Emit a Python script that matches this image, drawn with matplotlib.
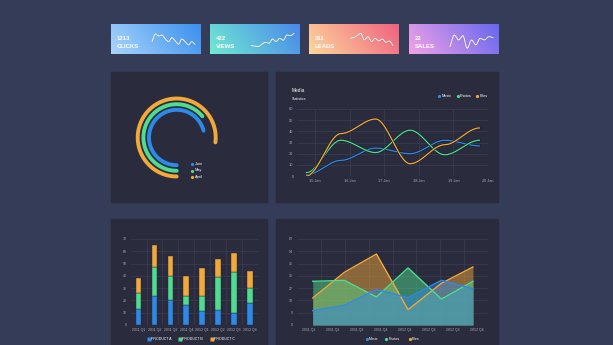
import numpy as np
import matplotlib.pyplot as plt
from matplotlib.colors import LinearSegmentedColormap
from matplotlib.patches import Rectangle
from matplotlib.lines import Line2D
import matplotlib.patheffects as pe

plt.rcParams['font.family'] = ['Liberation Sans', 'DejaVu Sans']

W, H = 613, 345
BG = '#343c57'
PANEL = '#2a2c3d'
GRID = '#3a3d51'
TXT = '#a9adbb'
BLUE, GREEN, ORANGE = '#2e8ae8', '#4fdc8e', '#f2a93a'

# cards
card_values = ['1213', '422', '311', '22']
card_labels = ['CLICKS', 'VIEWS', 'LEADS', 'SALES']
card_colors = [('#a9d5fb', '#3a90ee'), ('#70ead2', '#4a88ea'),
               ('#fdd79b', '#f0627f'), ('#f2a2e6', '#6767ef')]
spark = [
    [20, 43, 37, 40, 28, 20, 32, 22, 12, 28, 20, 10, 20, 12],
    [8, 7, 5, 12, 18, 15, 28, 20, 30, 24, 40, 38, 45],
    [30, 32, 38, 45, 25, 35, 20, 30, 22, 28, 18, 22, 8],
    [5, 40, 25, 38, 0, 25, 10, 30, 25, 35, 32],
]

# radial bars
radial_labels = ['June', 'May', 'April']
radial_pct = [71, 64, 77]

# media line chart
line_days = [14.75, 15.75, 16.75, 17.75, 18.75, 19.75]
music = [1, 14, 25, 20, 32, 27]
photos = [3, 32, 21, 41, 19, 32]
files = [0, 38, 51, 11, 28, 43]

# stacked bars
quarters = ['2011 Q1', '2011 Q2', '2011 Q3', '2011 Q4',
            '2012 Q1', '2012 Q2', '2012 Q3', '2012 Q4']
prod_a = [13, 24, 20, 16, 11, 12, 10, 18]
prod_b = [13, 23, 20, 8, 13, 27, 33, 12]
prod_c = [12, 18, 16, 16, 22, 15, 16, 14]

# area chart
area_x = [0.67, 1.99, 3.33, 4.65, 6.04, 7.36]
area_music = [10.5, 14.4, 26, 20, 32.7, 26.6]
area_photos = [32, 32.7, 20.5, 41.8, 19, 32]
area_files = [19.8, 38.6, 52, 11.2, 30.5, 42.5]


def pchip(x, y, n=300):
    x = np.asarray(x, float)
    y = np.asarray(y, float)
    h = np.diff(x)
    d = np.diff(y) / h
    m = np.zeros(len(x))
    m[0], m[-1] = d[0], d[-1]
    for k in range(1, len(x) - 1):
        if d[k - 1] * d[k] > 0:
            w1 = 2 * h[k] + h[k - 1]
            w2 = h[k] + 2 * h[k - 1]
            m[k] = (w1 + w2) / (w1 / d[k - 1] + w2 / d[k])
    xs = np.linspace(x[0], x[-1], n)
    i = np.clip(np.searchsorted(x, xs) - 1, 0, len(x) - 2)
    t = (xs - x[i]) / h[i]
    h00 = 2 * t**3 - 3 * t**2 + 1
    h10 = t**3 - 2 * t**2 + t
    h01 = -2 * t**3 + 3 * t**2
    h11 = t**3 - t**2
    ys = h00 * y[i] + h10 * h[i] * m[i] + h01 * y[i + 1] + h11 * h[i] * m[i + 1]
    return xs, ys


def bump(x, y, n=300):
    # flat tangent at every point, like the dashboard's smooth curve
    x = np.asarray(x, float)
    y = np.asarray(y, float)
    xs = np.linspace(x[0], x[-1], n)
    i = np.clip(np.searchsorted(x, xs) - 1, 0, len(x) - 2)
    t = (xs - x[i]) / (x[i + 1] - x[i])
    s = 3 * t**2 - 2 * t**3
    return xs, y[i] + (y[i + 1] - y[i]) * s


fig = plt.figure(figsize=(W / 100, H / 100), dpi=100, facecolor=BG)


def fig_axes(x0, y0, x1, y1):
    return fig.add_axes([x0 / W, 1 - y1 / H, (x1 - x0) / W, (y1 - y0) / H])


def ft(x, y, s, **kw):
    fig.text(x / W, 1 - y / H, s, **kw)


def dot(x, y, c, marker='o', ms=2.6):
    fig.add_artist(Line2D([x / W], [1 - y / H], marker=marker, ms=ms, color=c,
                          mec='none', transform=fig.transFigure))


# dark panels
for x0, y0, x1, y1 in [(111, 72, 267, 202), (276, 72, 498, 202),
                       (111, 219, 267, 360), (276, 219, 498, 360)]:
    fig.add_artist(Rectangle((x0 / W, 1 - y1 / H), (x1 - x0) / W, (y1 - y0) / H,
                             transform=fig.transFigure, color=PANEL, zorder=-1))

# stat cards
gx, gy = np.meshgrid(np.linspace(0, 1, 90), np.linspace(0, 1, 30))
grad = 0.8 * gx + 0.2 * (1 - gy)
for k, x0 in enumerate([111, 210, 309, 409]):
    ax = fig_axes(x0, 24, x0 + 90, 54)
    cmap = LinearSegmentedColormap.from_list('c%d' % k, card_colors[k])
    ax.imshow(grad, cmap=cmap, extent=(0, 90, 0, 30), aspect='auto', origin='upper')
    sx, sy = pchip(np.linspace(41, 84, len(spark[k])), 5.7 + np.array(spark[k]) / 3)
    ax.plot(sx, sy, color='white', lw=0.7,
            path_effects=[pe.withStroke(linewidth=1.4, foreground=(0, 0, 0, 0.12))])
    ax.text(5.5, 15, card_values[k], color='white', fontsize=4.3, fontweight='bold', va='center')
    ax.text(5.5, 7, card_labels[k], color='white', fontsize=4.3, fontweight='bold', va='center')
    ax.set_xlim(0, 90)
    ax.set_ylim(0, 30)
    ax.axis('off')

# radial bar chart
ax = fig_axes(111, 72, 267, 202)
ax.set_xlim(111, 267)
ax.set_ylim(202, 72)
ax.axis('off')
cx, cy = 176.7, 137.5
for r, pct, c in zip([27.7, 33.3, 39.0], radial_pct, [BLUE, GREEN, ORANGE]):
    th = np.radians(np.linspace(0, 3.6 * pct, 200))
    ax.plot(cx - r * np.sin(th), cy + r * np.cos(th), color=c, lw=2.8,
            solid_capstyle='round')
for lab, c, y in zip(radial_labels, [BLUE, GREEN, ORANGE], [163.7, 170.5, 177.3]):
    dot(192.3, y, c, ms=2.3)
    ft(194.8, y, lab, color='white', fontsize=2.8, va='center')

# media line chart
ax = fig_axes(297, 109, 488, 176)
ax.set_facecolor(PANEL)
for ys, c in [(music, BLUE), (photos, GREEN), (files, ORANGE)]:
    sx, sy = bump(line_days, ys)
    ax.plot(sx, sy, color=c, lw=0.9,
            path_effects=[pe.withStroke(linewidth=1.7, foreground='#1b1d29')])
ax.set_xlim(14.48, 20)
ax.set_ylim(0, 60)
ax.set_yticks(range(0, 61, 10))
ax.set_xticks(range(15, 21))
ax.set_xticklabels(['%d Jan' % d for d in range(15, 21)])
ax.grid(color=GRID, lw=0.5)
ax.tick_params(length=0, pad=2.5, labelsize=2.8, labelcolor=TXT)
for s in ax.spines.values():
    s.set_visible(False)
ax.axhline(0, color='#4a4e63', lw=0.6)
ft(291.7, 90, 'Media', color='white', fontsize=3.4, va='center')
ft(291.7, 99, 'Statistics', color='white', fontsize=2.6, va='center')
for lab, c, x in zip(['Music', 'Photos', 'Files'], [BLUE, GREEN, ORANGE], [439, 457.5, 477.5]):
    dot(x, 96, c, ms=2.3)
    ft(x + 2.2, 96, lab, color='white', fontsize=2.8, va='center')

# stacked bar chart
ax = fig_axes(130.7, 239, 257.7, 325)
ax.set_facecolor(PANEL)
xs = np.arange(len(quarters))
pa, pb, pc = np.array(prod_a), np.array(prod_b), np.array(prod_c)
kw = dict(width=0.36, edgecolor='#262838', linewidth=0.3, zorder=3)
ax.bar(xs, pa, color=BLUE, **kw)
ax.bar(xs, pb, bottom=pa, color=GREEN, **kw)
ax.bar(xs, pc, bottom=pa + pb, color=ORANGE, **kw)
ax.set_xlim(-0.5, 7.5)
ax.set_ylim(0, 70)
ax.set_yticks(range(0, 71, 10))
ax.set_xticks(xs)
ax.set_xticklabels(quarters)
ax.set_xticks(xs[:-1] + 0.5, minor=True)
ax.grid(axis='y', color=GRID, lw=0.5)
ax.grid(axis='x', which='minor', color=GRID, lw=0.5)
ax.tick_params(which='both', length=0, pad=2.5, labelsize=2.5, labelcolor=TXT)
for s in ax.spines.values():
    s.set_visible(False)
ax.axhline(0, color='#4a4e63', lw=0.6)
for lab, c, x in zip(['PRODUCT A', 'PRODUCT B', 'PRODUCT C'], [BLUE, GREEN, ORANGE],
                     [149, 180, 211.7]):
    dot(x, 339, c, marker='s', ms=2.2)
    ft(x + 2.3, 339, lab, color='white', fontsize=2.6, va='center')

# area chart
ax = fig_axes(296.7, 239, 488.3, 325)
ax.set_facecolor(PANEL)
for ys, c, z in [(area_files, ORANGE, 2), (area_photos, GREEN, 3), (area_music, BLUE, 4)]:
    ax.fill_between(area_x, ys, 0, color=c, alpha=0.48, lw=0, zorder=z)
    ax.plot(area_x, ys, color=c, lw=1.0, zorder=z + 5)
ax.set_xlim(0, 8)
ax.set_ylim(0, 63)
ax.set_yticks(range(0, 64, 9))
ax.set_xticks(np.arange(8) + 0.5)
ax.set_xticklabels(quarters)
ax.set_xticks(np.arange(1, 8), minor=True)
ax.grid(axis='y', color=GRID, lw=0.5)
ax.grid(axis='x', which='minor', color=GRID, lw=0.5)
ax.tick_params(which='both', length=0, pad=2.5, labelsize=2.5, labelcolor=TXT)
for s in ax.spines.values():
    s.set_visible(False)
ax.axhline(0, color='#4a4e63', lw=0.6)
for lab, c, x in zip(['Music', 'Photos', 'Files'], [BLUE, GREEN, ORANGE], [366.7, 386, 410]):
    dot(x, 339, c, ms=2.3)
    ft(x + 2.2, 339, lab, color='white', fontsize=2.6, va='center')

fig.savefig('out.png', dpi=100, facecolor=BG)
